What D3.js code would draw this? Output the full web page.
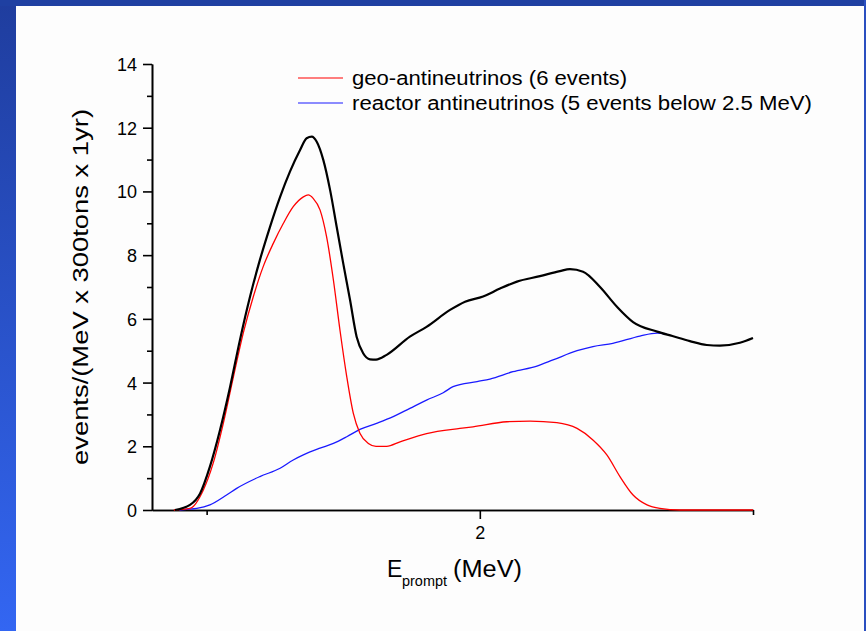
<!DOCTYPE html>
<html>
<head>
  <meta charset="utf-8">
  <title>Geo-antineutrino prompt spectrum</title>
  <style>
    body { margin: 0; background: #fdfdfd; }
    svg { display: block; font-family: "Liberation Sans", Arial, sans-serif; }
    .axis path, .axis line { stroke: #000; stroke-width: 1.6px; }
    .axis text { font-size: 18px; fill: #000; }
  </style>
</head>
<body>
  <svg width="866" height="631"></svg>

  <script src="https://d3js.org/d3.v7.min.js"></script>
  <script>
    // values: [E_prompt (MeV), events]
    var totalSpectrum = [
      [0.884, 0], [0.939, 0.16], [0.976, 0.52], [1.012, 1.36], [1.049, 2.51], [1.086, 3.87],
      [1.122, 5.34], [1.159, 6.7], [1.195, 7.85], [1.232, 8.89], [1.269, 9.83], [1.305, 10.62],
      [1.342, 11.3], [1.366, 11.67], [1.385, 11.72], [1.403, 11.56], [1.427, 10.99], [1.452, 10.04],
      [1.476, 8.89], [1.500, 7.74], [1.525, 6.59], [1.549, 5.44], [1.573, 4.92], [1.598, 4.73],
      [1.620, 4.72], [1.659, 4.87], [1.744, 5.44], [1.805, 5.75], [1.891, 6.28], [1.946, 6.54],
      [2.012, 6.7], [2.074, 6.95], [2.136, 7.17], [2.220, 7.34], [2.293, 7.5], [2.330, 7.56],
      [2.378, 7.48], [2.440, 7.0], [2.502, 6.38], [2.561, 5.9], [2.649, 5.6], [2.705, 5.46],
      [2.769, 5.3], [2.831, 5.18], [2.879, 5.16], [2.952, 5.25], [3.0, 5.4]
    ];

    var geoSpectrum = [
      [0.88, 0], [0.939, 0.05], [0.988, 0.63], [1.024, 1.47], [1.061, 2.72], [1.098, 4.18],
      [1.134, 5.55], [1.171, 6.7], [1.207, 7.64], [1.244, 8.37], [1.281, 9.0], [1.317, 9.52],
      [1.354, 9.83], [1.372, 9.89], [1.390, 9.78], [1.415, 9.42], [1.439, 8.58], [1.464, 7.22],
      [1.488, 5.65], [1.513, 4.18], [1.537, 3.03], [1.561, 2.41], [1.592, 2.09], [1.620, 2.0],
      [1.659, 2.0], [1.708, 2.14], [1.805, 2.4], [1.927, 2.56], [1.975, 2.61], [2.099, 2.77],
      [2.184, 2.79], [2.282, 2.74], [2.356, 2.56], [2.414, 2.2], [2.465, 1.73], [2.513, 1.05],
      [2.561, 0.47], [2.612, 0.16], [2.659, 0.05], [2.732, 0], [3.0, 0]
    ];

    var reactorSpectrum = [
      [0.90, 0], [0.927, 0.02], [0.964, 0.05], [1.012, 0.16], [1.073, 0.47], [1.110, 0.68],
      [1.195, 1.05], [1.269, 1.31], [1.317, 1.57], [1.354, 1.73], [1.415, 1.94], [1.464, 2.09],
      [1.513, 2.3], [1.561, 2.53], [1.622, 2.72], [1.683, 2.93], [1.744, 3.19], [1.805, 3.45],
      [1.866, 3.68], [1.902, 3.87], [1.990, 4.03], [2.037, 4.11], [2.121, 4.34], [2.209, 4.52],
      [2.268, 4.71], [2.356, 5.0], [2.414, 5.13], [2.487, 5.23], [2.586, 5.46], [2.649, 5.55],
      [2.685, 5.51]
    ];

    var legendLabels = ['geo-antineutrinos (6 events)', 'reactor antineutrinos (5 events below 2.5 MeV)'];
    var legendWidths = [275, 460];
    var yTicks = [0, 2, 4, 6, 8, 10, 12, 14];
    var xTicks = [2];

    var svg = d3.select('svg');

    // slide frame: blue gradient bar on the left, solid bar on top, thin one on the right
    var grad = svg.append('defs').append('linearGradient')
      .attr('id', 'frame').attr('x1', 0).attr('y1', 0).attr('x2', 0).attr('y2', 1);
    grad.append('stop').attr('offset', '0%').attr('stop-color', '#1f3d9e');
    grad.append('stop').attr('offset', '100%').attr('stop-color', '#3366f2');
    svg.append('rect').attr('x', 0).attr('y', 0).attr('width', 866).attr('height', 631).attr('fill', '#fdfdfd');
    svg.append('rect').attr('x', 0).attr('y', 0).attr('width', 16).attr('height', 631).attr('fill', 'url(#frame)');
    svg.append('rect').attr('x', 0).attr('y', 0).attr('width', 866).attr('height', 6).attr('fill', '#1f40a2');
    svg.append('rect').attr('x', 864).attr('y', 0).attr('width', 2).attr('height', 631).attr('fill', '#2a4fc0');

    var x = d3.scaleLinear().domain([0.8, 3.0]).range([152, 753]);
    var y = d3.scaleLinear().domain([0, 14]).range([510, 64]);

    // y axis: majors labelled, minors at the odd values
    svg.append('g').attr('class', 'axis').attr('transform', 'translate(152,0)')
      .call(d3.axisLeft(y).tickValues(d3.range(1, 14, 2)).tickSize(5).tickFormat('').tickSizeOuter(0));
    var ya = svg.append('g').attr('class', 'axis').attr('transform', 'translate(152,0)')
      .call(d3.axisLeft(y).tickValues(yTicks).tickSize(9).tickPadding(6).tickSizeOuter(0).tickFormat(d3.format('d')));
    ya.selectAll('text').attr('dy', '0.36em');

    // x axis: major at 2, minors at 1 and 3
    svg.append('g').attr('class', 'axis').attr('transform', 'translate(0,510)')
      .call(d3.axisBottom(x).tickValues([1, 3]).tickSize(5).tickFormat('').tickSizeOuter(0));
    svg.append('g').attr('class', 'axis').attr('transform', 'translate(0,510)')
      .call(d3.axisBottom(x).tickValues(xTicks).tickSize(9).tickPadding(7).tickSizeOuter(0).tickFormat(d3.format('d')));

    var line = d3.line()
      .x(function(d) { return x(d[0]); })
      .y(function(d) { return y(d[1]); })
      .curve(d3.curveMonotoneX);

    svg.append('path').datum(reactorSpectrum).attr('d', line)
      .attr('fill', 'none').attr('stroke', '#1a1aff').attr('stroke-width', 1.3);
    svg.append('path').datum(geoSpectrum).attr('d', line)
      .attr('fill', 'none').attr('stroke', '#ff0000').attr('stroke-width', 1.3);
    svg.append('path').datum(totalSpectrum).attr('d', line)
      .attr('fill', 'none').attr('stroke', '#000').attr('stroke-width', 2.2);

    // legend
    var legend = svg.append('g').selectAll('g')
      .data(legendLabels).join('g')
      .attr('transform', function(d, i) { return 'translate(298,' + (78 + i * 25) + ')'; });
    legend.append('line').attr('x1', 0).attr('x2', 45)
      .attr('stroke', function(d, i) { return i === 0 ? '#ff0000' : '#1a1aff'; })
      .attr('stroke-width', 1.2);
    legend.append('text').attr('x', 54).attr('dy', '0.35em')
      .style('font-size', '20px')
      .attr('textLength', function(d, i) { return legendWidths[i]; })
      .attr('lengthAdjust', 'spacingAndGlyphs')
      .text(function(d) { return d; });

    // axis titles
    svg.append('text')
      .attr('transform', 'translate(88,287) rotate(-90)')
      .attr('text-anchor', 'middle')
      .style('font-size', '22px')
      .attr('textLength', 356)
      .attr('lengthAdjust', 'spacingAndGlyphs')
      .text('events/(MeV x 300tons x 1yr)');

    var xt = svg.append('text').attr('y', 577).style('font-size', '23px');
    xt.append('tspan').attr('x', 387).text('E');
    xt.append('tspan').attr('x', 402).attr('dy', 9).style('font-size', '14px')
      .attr('textLength', 45).attr('lengthAdjust', 'spacingAndGlyphs').text('prompt');
    xt.append('tspan').attr('x', 453).attr('dy', -9)
      .attr('textLength', 69).attr('lengthAdjust', 'spacingAndGlyphs').text('(MeV)');
  </script>
</body>
</html>
